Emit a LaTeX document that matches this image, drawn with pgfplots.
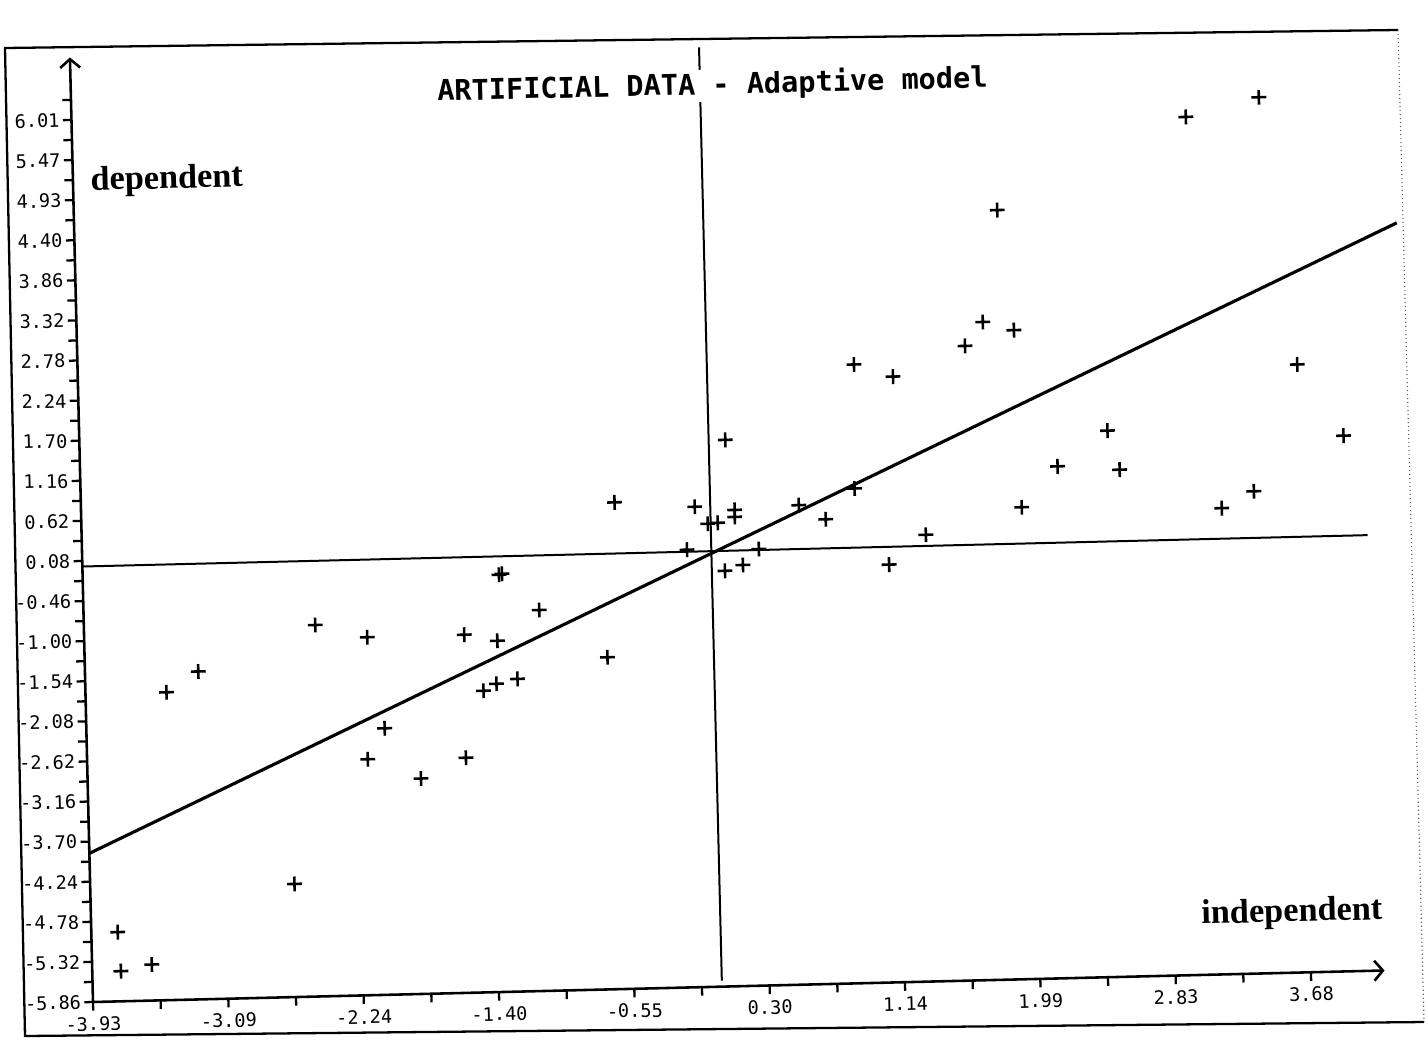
\documentclass[border=0pt]{standalone}
\usepackage{pgfplots}
\pgfplotsset{compat=1.18}
\usepackage{fontspec}
\setmainfont{Liberation Serif}
\newfontfamily\monofont{DejaVu Sans Mono}
\usetikzlibrary{arrows.meta}

\pgfplotstableread{
x y
3.488 5.925
3.029 5.684
1.837 4.493
1.730 2.993
1.923 2.873
1.615 2.677
0.919 2.464
1.161 2.288
3.687 2.319
2.492 1.491
3.965 1.346
0.104 1.492
2.175 1.027
2.562 0.962
3.397 0.627
0.904 0.796
-0.597 0.688
-0.097 0.603
0.553 0.590
0.152 0.547
0.151 0.453
1.945 0.489
3.194 0.411
-0.018 0.370
0.044 0.379
0.719 0.391
1.342 0.150
-0.152 0.028
0.297 0.013
0.082 -0.269
0.195 -0.196
1.108 -0.239
-1.330 -0.248
-1.311 -0.236
-1.084 -0.735
-2.485 -0.863
-2.162 -1.044
-1.556 -1.042
-1.350 -1.135
-0.665 -1.393
-3.222 -1.449
-3.424 -1.719
-1.230 -1.654
-1.362 -1.713
-1.444 -1.803
-2.067 -2.275
-2.177 -2.685
-1.564 -2.697
-1.848 -2.962
-2.654 -4.338
-3.765 -4.928
-3.751 -5.454
-3.557 -5.375
}\datapoints

\begin{document}
\begin{tikzpicture}
\useasboundingbox (-32.55pt,-14.35pt) rectangle (467.25pt,350.7pt);
\draw[line width=0.8pt] (465.85pt,-7.0pt) -- (-23.8pt,-11.9pt) -- (-30.8pt,333.9pt) -- (456.75pt,340.2pt);
\draw[line width=0.4pt, black!60, densely dotted] (456.75pt,340.2pt) -- (465.85pt,-7.0pt);
\begin{scope}[rotate=1.4]
\begin{axis}[
  at={(0,0)}, anchor=south west,
  scale only axis, width=452.2pt, height=330.7pt,
  xmin=-3.93, xmax=4.14, ymin=-5.86, ymax=6.85,
  axis x line=bottom, axis y line=left,
  axis line style={line width=0.9pt, -{Straight Barb[length=3pt,width=7pt,line width=0.9pt]}},
  clip=false,
  tick align=outside,
  major tick length=3pt, minor tick length=3pt,
  tick style={line width=0.8pt, black},
  xtick={-3.93,-3.0844,-2.2389,-1.3933,-0.5478,0.2978,1.1433,1.9889,2.8344,3.68},
  xticklabels={-3.93,-3.09,-2.24,-1.40,-0.55,0.30,1.14,1.99,2.83,3.68},
  minor xtick={-3.5072,-2.6617,-1.8161,-0.9706,-0.1250,0.7206,1.5661,2.4117,3.2572},
  ytick={-5.86,-5.3205,-4.781,-4.2415,-3.702,-3.1625,-2.623,-2.0835,-1.544,-1.0045,-0.465,0.0745,0.614,1.1535,1.693,2.2325,2.772,3.3115,3.851,4.3905,4.93,5.4695,6.009},
  yticklabels={-5.86,-5.32,-4.78,-4.24,-3.70,-3.16,-2.62,-2.08,-1.54,-1.00,-0.46,0.08,0.62,1.16,1.70,2.24,2.78,3.32,3.86,4.40,4.93,5.47,6.01},
  minor ytick={-5.59025,-5.05075,-4.51125,-3.97175,-3.43225,-2.89275,-2.35325,-1.81375,-1.27425,-0.73475,-0.19525,0.34425,0.88375,1.42325,1.96275,2.50225,3.04175,3.58125,4.12075,4.66025,5.19975,5.73925,6.27875},
  tick label style={font=\monofont\fontsize{6.5}{8}\selectfont},
  xticklabel style={inner sep=2pt},
  yticklabel style={inner sep=1pt},
]
\addplot[line width=0.7pt] coordinates {(0,-5.78) (0,6.78)};
\addplot[line width=0.7pt] coordinates {(-3.93,0) (4.10,0)};
\addplot[line width=1.1pt] coordinates {(-3.93,-3.86) (4.33,4.19)};
\addplot[only marks, mark=+, mark size=2.6pt, mark options={line width=0.9pt}] table {\datapoints};
\node[fill=white, inner sep=0.5pt, font=\monofont\bfseries\fontsize{10}{12}\selectfont] at (axis cs:0.078,6.26) {ARTIFICIAL DATA - Adaptive model};
\node[font=\bfseries\fontsize{12}{14}\selectfont] at (axis cs:-3.344,5.167) {dependent};
\node[font=\bfseries\fontsize{12}{14}\selectfont] at (axis cs:3.57,-5.06) {independent};
\end{axis}
\end{scope}
\end{tikzpicture}
\end{document}
